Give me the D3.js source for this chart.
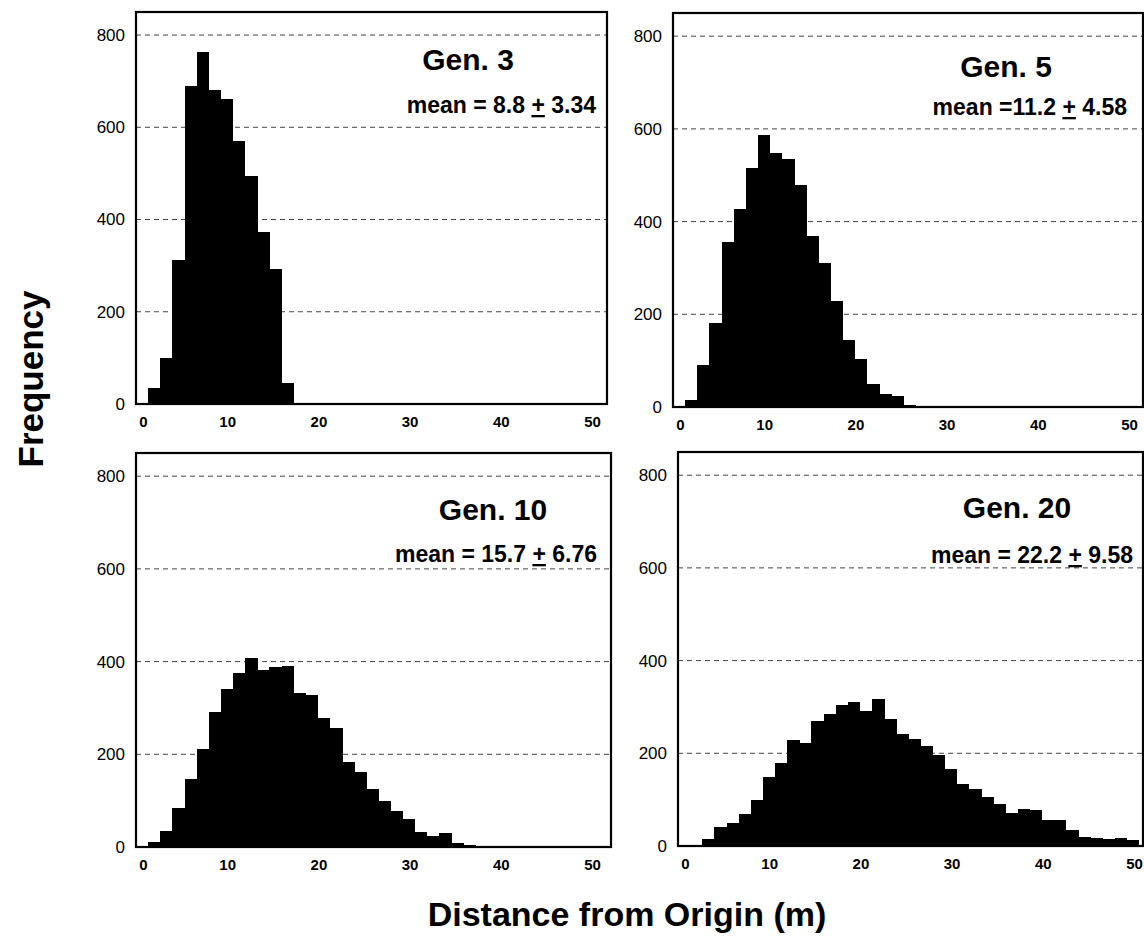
<!DOCTYPE html>
<html>
<head>
  <meta charset="utf-8" />
  <title>Distance from Origin histograms</title>
  <script src="https://d3js.org/d3.v7.min.js"></script>
  <style>
    body { margin: 0; background: #fff; }
    svg { font-family: "Liberation Sans", Arial, sans-serif; }
    .grid { stroke: #444; stroke-width: 1; stroke-dasharray: 5,4; }
    .frame { fill: none; stroke: #000; stroke-width: 2.2; }
    .bar { fill: #000; }
  </style>
</head>
<body>
  <svg id="chart" width="1144" height="936"></svg>
  <script>
    // bin width in metres (each bar)
    const binWidth = 1.33;

    // counts per bin, starting at 0 m
    const gen3Counts = [0, 34, 99, 313, 690, 763, 680, 661, 571, 494, 372, 292, 45];
    const gen5Counts = [2, 16, 91, 181, 355, 428, 516, 587, 549, 535, 478, 369, 311, 228, 144, 103, 50, 28, 23, 4, 1];
    const gen10Counts = [0, 10, 35, 85, 146, 211, 291, 341, 376, 407, 382, 389, 391, 332, 327, 278, 256, 183, 161, 125,
      100, 78, 60, 33, 24, 30, 9, 4, 2, 1, 1, 1, 1, 0, 0, 0, 1];
    const gen20Counts = [2, 3, 15, 40, 50, 68, 100, 148, 180, 229, 223, 270, 285, 305, 310, 291, 318, 275, 241, 231,
      216, 196, 166, 133, 123, 105, 90, 72, 80, 78, 57, 57, 35, 20, 18, 15, 17, 12];

    const panelTitles = ["Gen. 3", "Gen. 5", "Gen. 10", "Gen. 20"];
    const meanLabels = ["mean = 8.8", "mean =11.2", "mean = 15.7", "mean = 22.2"];
    const sdLabels = ["3.34", "4.58", "6.76", "9.58"];

    const xTicks = [0, 10, 20, 30, 40, 50];
    const yTicks = [0, 200, 400, 600, 800];

    const allCounts = [gen3Counts, gen5Counts, gen10Counts, gen20Counts];

    // panel placement on the page
    const layout = [
      { left: 136, top: 12, right: 607, bottom: 404, titleX: 468, titleY: 70, meanX: 596, meanY: 113 },
      { left: 673, top: 13, right: 1143, bottom: 407, titleX: 1006, titleY: 77, meanX: 1127, meanY: 115 },
      { left: 136, top: 453, right: 611, bottom: 847, titleX: 493, titleY: 520, meanX: 597, meanY: 562 },
      { left: 678, top: 452, right: 1143, bottom: 846, titleX: 1017, titleY: 518, meanX: 1133, meanY: 563 }
    ];

    const svg = d3.select("#chart");

    allCounts.forEach(function (counts, i) {
      var p = layout[i];
      var g = svg.append("g");

      var x = d3.scaleLinear().domain([0, 50]).range([p.left, p.left + 456]);
      var y = d3.scaleLinear().domain([0, 850]).range([p.bottom, p.top]);

      // dashed grid
      g.selectAll(".grid")
        .data(yTicks.filter(function (d) { return d > 0; }))
        .enter().append("line")
        .attr("class", "grid")
        .attr("x1", p.left)
        .attr("x2", p.right)
        .attr("y1", function (d) { return y(d); })
        .attr("y2", function (d) { return y(d); });

      // bars
      g.selectAll(".bar")
        .data(counts)
        .enter().append("rect")
        .attr("class", "bar")
        .attr("shape-rendering", "crispEdges")
        .attr("x", function (d, k) { return x(k * binWidth); })
        .attr("width", function (d, k) { return x((k + 1) * binWidth) - x(k * binWidth) + 0.3; })
        .attr("y", function (d) { return y(d); })
        .attr("height", function (d) { return p.bottom - y(d); });

      // frame
      g.append("rect")
        .attr("class", "frame")
        .attr("x", p.left)
        .attr("y", p.top)
        .attr("width", p.right - p.left)
        .attr("height", p.bottom - p.top);

      // y axis
      var yAxis = g.append("g")
        .attr("transform", "translate(" + p.left + ",0)")
        .call(d3.axisLeft(y).tickValues(yTicks).tickSize(0).tickPadding(11));
      yAxis.select(".domain").remove();
      yAxis.selectAll("text")
        .style("font-size", "17px")
        .style("font-family", "'Liberation Sans', Arial, sans-serif")
        .attr("fill", "#000");

      // x axis
      var xAxis = g.append("g")
        .attr("transform", "translate(0," + p.bottom + ")")
        .call(d3.axisBottom(x).tickValues(xTicks).tickSize(0).tickPadding(12));
      xAxis.select(".domain").remove();
      xAxis.selectAll("text")
        .style("font-size", "15px")
        .style("font-weight", "bold")
        .style("font-family", "'Liberation Sans', Arial, sans-serif")
        .attr("fill", "#000")
        .attr("dx", function (d) { return d === 0 ? 7 : 0; });

      // title
      g.append("text")
        .attr("x", p.titleX)
        .attr("y", p.titleY)
        .attr("text-anchor", "middle")
        .style("font-size", "30px")
        .style("font-weight", "bold")
        .text(panelTitles[i]);

      // mean +/- sd
      var m = g.append("text")
        .attr("x", p.meanX)
        .attr("y", p.meanY)
        .attr("text-anchor", "end")
        .style("font-size", "23px")
        .style("font-weight", "bold");
      m.append("tspan").text(meanLabels[i] + " ");
      m.append("tspan").style("text-decoration", "underline").text("+");
      m.append("tspan").text(" " + sdLabels[i]);
    });

    // axis titles
    svg.append("text")
      .attr("transform", "translate(43,379) rotate(-90)")
      .attr("text-anchor", "middle")
      .style("font-size", "35px")
      .style("font-weight", "bold")
      .text("Frequency");

    svg.append("text")
      .attr("x", 627)
      .attr("y", 926)
      .attr("text-anchor", "middle")
      .style("font-size", "34px")
      .style("font-weight", "bold")
      .text("Distance from Origin (m)");
  </script>
</body>
</html>
